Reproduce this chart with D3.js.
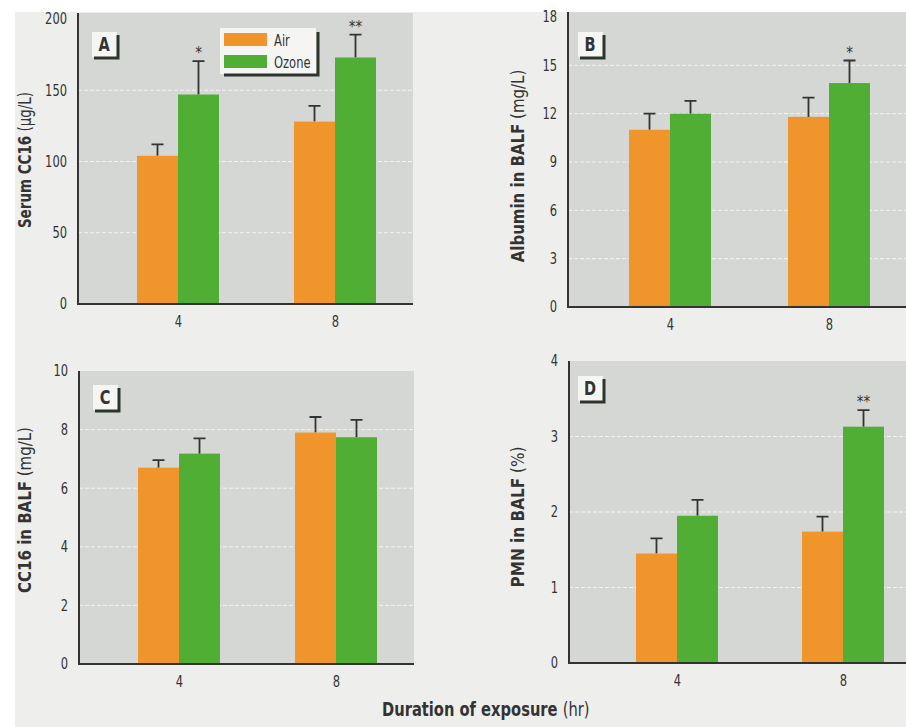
<!DOCTYPE html>
<html lang="en">
<head>
<meta charset="UTF-8">
<title>Ozone exposure</title>
<style>
  body { margin: 0; background: #ffffff; }
  svg { display: block; }
  text { font-family: "Liberation Sans Narrow", "Arial Narrow", "DejaVu Sans Condensed", sans-serif; fill: #333; }
</style>
</head>
<body>
<script src="https://d3js.org/d3.v7.min.js"></script>
<script>
    // Data (mean and SE per exposure duration)
    let groups = ["4", "8"];
    let series = ["Air", "Ozone"];

    let serumAir = [104, 128], serumAirSE = [8, 11];
    let serumOzone = [147, 173], serumOzoneSE = [23.5, 16];
    let serumStars = ["*", "**"];

    let albuminAir = [11.0, 11.8], albuminAirSE = [1.0, 1.2];
    let albuminOzone = [12.0, 13.9], albuminOzoneSE = [0.8, 1.4];
    let albuminStars = ["", "*"];

    let cc16Air = [6.7, 7.9], cc16AirSE = [0.26, 0.53];
    let cc16Ozone = [7.18, 7.74], cc16OzoneSE = [0.52, 0.59];
    let cc16Stars = ["", ""];

    let pmnAir = [1.45, 1.74], pmnAirSE = [0.2, 0.2];
    let pmnOzone = [1.95, 3.13], pmnOzoneSE = [0.21, 0.22];
    let pmnStars = ["", "**"];

    let colors = {Air: "#f0952b", Ozone: "#4fae33"};

    // squeeze text horizontally to imitate the narrow typeface of the original
    function condense(sel, k) {
        sel.each(function() {
            let w = this.getComputedTextLength();
            d3.select(this).attr('textLength', w * k).attr('lengthAdjust', 'spacingAndGlyphs');
        });
    }

    let svg = d3.select('body').append('svg')
        .attr('width', 906).attr('height', 727);

    // scanned page background
    svg.append('rect').attr('x', 15).attr('y', 12).attr('width', 891).attr('height', 715)
        .attr('fill', '#eeefed');

    // panel layout (pixels)
    let panels = [
        {id: "A", left: 78, right: 413, top: 19, bottom: 304, max: 200, step: 50, c: [178, 335],
         label: ["Serum CC16", " (\u03bcg/L)"], labX: 25, labY: 160, labK: 0.88, box: [92, 32],
         air: serumAir, airSE: serumAirSE, oz: serumOzone, ozSE: serumOzoneSE, stars: serumStars, legend: true, gTop: 13},
        {id: "B", left: 568, right: 906, top: 17, bottom: 307, max: 18, step: 3, c: [670, 829],
         label: ["Albumin in BALF", " (mg/L)"], labX: 518, labY: 166, labK: 0.98, box: [578, 32],
         air: albuminAir, airSE: albuminAirSE, oz: albuminOzone, ozSE: albuminOzoneSE, stars: albuminStars, gTop: 12},
        {id: "C", left: 79, right: 414, top: 371, bottom: 664, max: 10, step: 2, c: [179, 336],
         label: ["CC16  in BALF", " (mg/L)"], labX: 25, labY: 510, labK: 0.98, box: [93, 385],
         air: cc16Air, airSE: cc16AirSE, oz: cc16Ozone, ozSE: cc16OzoneSE, stars: cc16Stars, gTop: 371},
        {id: "D", left: 569, right: 906, top: 361, bottom: 663, max: 4, step: 1, c: [677, 843],
         label: ["PMN in BALF", " (%)"], labX: 518, labY: 517, labK: 1.0, box: [578, 376],
         air: pmnAir, airSE: pmnAirSE, oz: pmnOzone, ozSE: pmnOzoneSE, stars: pmnStars, gTop: 361}
    ];

    panels.forEach(function(p) {
        let g = svg.append('g');
        let y = d3.scaleLinear().domain([0, p.max]).range([p.bottom, p.top]);
        let x = d3.scalePoint().domain(groups).range(p.c);
        let xs = d3.scaleBand().domain(series).range([-41, 41]);

        // grey plot area
        g.append('rect').attr('x', p.left).attr('y', p.gTop)
            .attr('width', p.right - p.left).attr('height', p.bottom - p.gTop)
            .attr('fill', '#d5d7d4');

        let ticks = d3.range(0, p.max + p.step / 2, p.step);

        // dashed white grid lines
        g.selectAll('.grid').data(ticks.filter(function(t) { return t > 0 && t < p.max; }))
            .enter().append('line')
            .attr('x1', p.left).attr('x2', p.right)
            .attr('y1', function(d) { return y(d); }).attr('y2', function(d) { return y(d); })
            .attr('stroke', '#f4f4f4').attr('stroke-width', 1).attr('stroke-dasharray', '4,2');

        // bars
        let rows = [];
        groups.forEach(function(gr, i) {
            rows.push({g: gr, s: "Air", v: p.air[i], e: p.airSE[i], star: ""});
            rows.push({g: gr, s: "Ozone", v: p.oz[i], e: p.ozSE[i], star: p.stars[i]});
        });

        // error bars (upper only)
        g.selectAll('.err').data(rows).enter().append('path')
            .attr('d', function(d) {
                let cx = x(d.g) + xs(d.s) + xs.bandwidth() / 2;
                return 'M' + cx + ',' + y(d.v) + 'V' + y(d.v + d.e) + 'M' + (cx - 6) + ',' + y(d.v + d.e) + 'H' + (cx + 6);
            })
            .attr('stroke', '#333').attr('stroke-width', 1.8).attr('fill', 'none');

        g.selectAll('.bar').data(rows).enter().append('rect')
            .attr('x', function(d) { return x(d.g) + xs(d.s); })
            .attr('y', function(d) { return y(d.v); })
            .attr('width', xs.bandwidth())
            .attr('height', function(d) { return p.bottom - y(d.v); })
            .attr('fill', function(d) { return colors[d.s]; });

        // significance stars
        g.selectAll('.star').data(rows.filter(function(d) { return d.star; })).enter().append('text')
            .attr('x', function(d) { return x(d.g) + xs(d.s) + xs.bandwidth() / 2; })
            .attr('y', function(d) { return y(d.v + d.e) - 3; })
            .attr('text-anchor', 'middle').attr('font-size', '15px')
            .text(function(d) { return d.star; });

        // axes
        let yAxis = g.append('g').attr('transform', 'translate(' + p.left + ',0)')
            .call(d3.axisLeft(y).tickValues(ticks).tickSize(0).tickPadding(11).tickFormat(d3.format('d')));
        yAxis.select('.domain').remove();
        yAxis.selectAll('text').attr('font-size', '15px').style('font-family', null).attr('fill', '#333')
            .call(condense, 0.85);

        let xAxis = g.append('g').attr('transform', 'translate(0,' + p.bottom + ')')
            .call(d3.axisBottom(x).tickSize(0).tickPadding(12));
        xAxis.select('.domain').remove();
        xAxis.selectAll('text').attr('font-size', '15px').style('font-family', null).attr('fill', '#333')
            .call(condense, 0.85);

        g.append('path')
            .attr('d', 'M' + p.left + ',' + p.gTop + 'V' + p.bottom + 'H' + p.right)
            .attr('stroke', '#333').attr('stroke-width', 2).attr('fill', 'none');

        // y-axis title
        let t = g.append('text')
            .attr('transform', 'translate(' + p.labX + ',' + p.labY + ') rotate(-90)')
            .attr('text-anchor', 'middle').attr('dy', '0.35em').attr('font-size', '17px');
        t.append('tspan').attr('font-weight', 'bold').text(p.label[0]);
        t.append('tspan').text(p.label[1]);
        t.call(condense, p.labK);

        // panel letter box
        let bx = p.box[0], by = p.box[1];
        g.append('rect').attr('x', bx).attr('y', by).attr('width', 25).attr('height', 25).attr('fill', '#f5f6f4');
        g.append('path').attr('d', 'M' + (bx + 2) + ',' + (by + 26) + 'H' + (bx + 26) + 'V' + (by + 3))
            .attr('stroke', '#2b352b').attr('stroke-width', 3).attr('fill', 'none');
        g.append('text').attr('x', bx + 12).attr('y', by + 19).attr('text-anchor', 'middle')
            .attr('font-size', '19px').attr('font-weight', 'bold').text(p.id)
            .call(condense, 0.85);

        // legend
        if (p.legend) {
            let lg = g.append('g').attr('transform', 'translate(220,28)');
            lg.append('rect').attr('width', 96).attr('height', 46).attr('fill', '#f5f6f4');
            lg.append('path').attr('d', 'M4,47H98V4').attr('stroke', '#2b352b').attr('stroke-width', 3).attr('fill', 'none');
            series.forEach(function(s, i) {
                lg.append('rect').attr('x', 4).attr('y', 5 + i * 22).attr('width', 43).attr('height', 13).attr('fill', colors[s]);
                lg.append('text').attr('x', 54).attr('y', 12 + i * 22).attr('dy', '0.35em')
                    .attr('font-size', '16px').text(s)
                    .call(condense, 0.8);
            });
        }
    });

    // shared x-axis title: bold part and unit part, squeezed as a group
    let xt = svg.append('g').attr('transform', 'translate(382,716) scale(0.86,1)');
    let xtBold = xt.append('text').attr('x', 0).attr('y', 0).attr('font-size', '19px')
        .attr('font-weight', 'bold').text('Duration of exposure');
    let boldW = xtBold.node().getComputedTextLength();
    xt.append('text').attr('x', boldW + 6).attr('y', 0).attr('font-size', '19px').text('(hr)');
</script>
</body>
</html>
